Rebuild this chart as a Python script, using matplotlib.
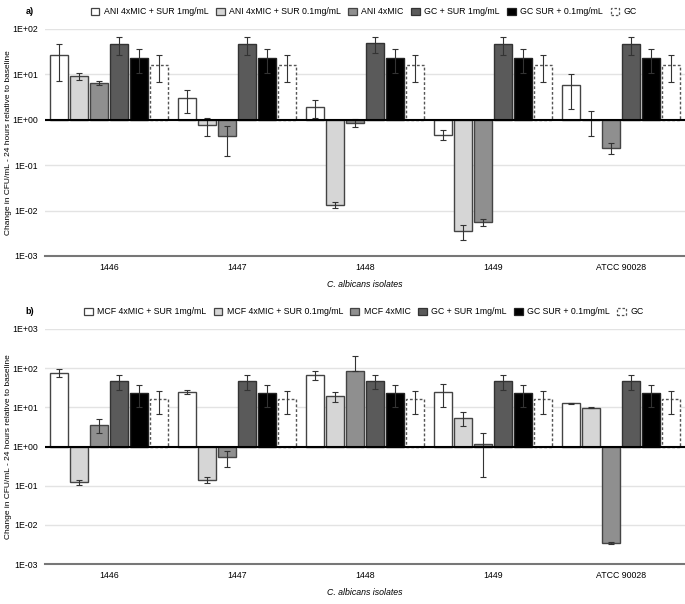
import numpy as np
import matplotlib
matplotlib.use('Agg')
import matplotlib.pyplot as plt
from matplotlib.patches import Patch
from matplotlib.ticker import FixedLocator, FuncFormatter

plt.rcParams['font.family'] = ['Liberation Sans', 'DejaVu Sans']

# Data
isolates = ['1446', '1447', '1448', '1449', 'ATCC 90028']

labels_a = ['ANI 4xMIC + SUR 1mg/mL', 'ANI 4xMIC + SUR 0.1mg/mL', 'ANI 4xMIC',
            'GC + SUR 1mg/mL', 'GC SUR + 0.1mg/mL', 'GC']
labels_b = ['MCF 4xMIC + SUR 1mg/mL', 'MCF 4xMIC + SUR 0.1mg/mL', 'MCF 4xMIC',
            'GC + SUR 1mg/mL', 'GC SUR + 0.1mg/mL', 'GC']

# panel a: one list per series, values per isolate
a_sur1 = [27, 3.0, 1.9, 0.47, 5.9]
a_sur01 = [9.2, 0.78, 0.0133, 0.0036, 0.98]
a_drug = [6.6, 0.44, 0.86, 0.0056, 0.245]
a_sur1_err = [20, 1.6, 0.8, 0.12, 4.2]
a_sur01_err = [1.8, 0.33, 0.002, 0.0013, 0.55]
a_drug_err = [0.7, 0.28, 0.18, 0.001, 0.07]

# panel b
b_sur1 = [77, 24.5, 67, 25, 12.7]
b_sur01 = [0.121, 0.139, 19, 5.5, 9.7]
b_drug = [3.6, 0.54, 86, 1.17, 0.0035]
b_sur1_err = [18, 3, 17, 15, 0.3]
b_sur01_err = [0.016, 0.025, 5, 2.2, 0.3]
b_drug_err = [1.4, 0.24, 120, 1.0, 0.0002]

# growth controls (same in both panels)
gc_sur1 = [46, 46, 48, 46, 46]
gc_sur01 = [23.5, 23.5, 23.5, 23.5, 23.5]
gc = [16.5, 16.5, 16.5, 16.5, 16.5]
gc_sur1_err = [19, 19, 19, 19, 19]
gc_sur01_err = [13, 13, 13, 13, 13]
gc_err = [9.7, 9.7, 9.7, 9.7, 9.7]

colors = ['white', '#d6d6d6', '#8f8f8f', '#5a5a5a', 'black', 'white']
edges = ['#444444', '#444444', '#444444', '#333333', '#222222', '#555555']
styles = ['-', '-', '-', '-', '-', (0, (2, 1.5))]

W, H = 685, 604
fig = plt.figure(figsize=(W / 100, H / 100), dpi=100)

def fmt(v, pos):
    e = int(round(np.log10(v)))
    return '1E{}{:02d}'.format('+' if e >= 0 else '-', abs(e))

def panel(ax, series, errs, ymax):
    x = np.arange(len(isolates))
    step, width = 0.156, 0.14
    for i, (vals, err) in enumerate(zip(series, errs)):
        vals = np.array(vals, dtype=float)
        err = np.array(err, dtype=float)
        pos = x + (i - 2.5) * step
        ax.bar(pos, vals - 1, bottom=1, width=width, color=colors[i],
               edgecolor=edges[i], linewidth=1.0, linestyle=styles[i], zorder=2)
        low = np.where(err < vals, err, 0)
        ax.errorbar(pos, vals, yerr=[low, err], fmt='none', ecolor='#333333',
                    elinewidth=0.8, capsize=2.2, capthick=0.8, zorder=3)
    ax.set_yscale('log')
    ax.set_ylim(1e-3, ymax)
    ax.set_xlim(-0.5, len(isolates) - 0.5)
    ticks = [10.0 ** k for k in range(-3, int(round(np.log10(ymax))) + 1)]
    ax.yaxis.set_major_locator(FixedLocator(ticks))
    ax.yaxis.set_minor_locator(FixedLocator([]))
    ax.yaxis.set_major_formatter(FuncFormatter(fmt))
    ax.grid(axis='y', color='#e3e3e3', linewidth=1.0, zorder=0)
    ax.set_axisbelow(True)
    ax.axhline(1, color='black', linewidth=1.5, zorder=4)
    for s in ['top', 'right', 'left']:
        ax.spines[s].set_visible(False)
    ax.spines['bottom'].set_color('#777777')
    ax.spines['bottom'].set_linewidth(1.5)
    ax.set_xticks(x)
    ax.set_xticklabels(isolates)
    ax.tick_params(length=0, labelsize=6.3, pad=5)
    ax.set_xlabel('C. albicans isolates', fontstyle='italic', fontsize=6.3, labelpad=6)
    ax.set_ylabel('Change in CFU/mL - 24 hours relative to baseline', fontsize=6.0)
    ax.yaxis.set_label_coords(-0.052, 0.5)

def legend(labels, ytop, tag):
    handles = [Patch(facecolor=colors[i], edgecolor=edges[i], linestyle=styles[i],
                     linewidth=0.9, label=labels[i]) for i in range(6)]
    fig.legend(handles=handles, loc='center', bbox_to_anchor=(0.531, ytop), ncol=6,
               frameon=False, fontsize=6.3, handlelength=1.0, handleheight=1.0,
               handletextpad=0.5, columnspacing=0.85, borderaxespad=0)
    fig.text(30 / W, ytop, tag, fontsize=6.5, fontweight='bold', ha='center', va='center')

ax_a = fig.add_axes([45 / W, 1 - 256 / H, 640 / W, 227 / H])
panel(ax_a, [a_sur1, a_sur01, a_drug, gc_sur1, gc_sur01, gc],
      [a_sur1_err, a_sur01_err, a_drug_err, gc_sur1_err, gc_sur01_err, gc_err], 1e2)
legend(labels_a, 1 - 12 / H, 'a)')

ax_b = fig.add_axes([45 / W, 1 - 564 / H, 640 / W, 235 / H])
panel(ax_b, [b_sur1, b_sur01, b_drug, gc_sur1, gc_sur01, gc],
      [b_sur1_err, b_sur01_err, b_drug_err, gc_sur1_err, gc_sur01_err, gc_err], 1e3)
legend(labels_b, 1 - 312 / H, 'b)')

plt.savefig('out.png', dpi=100)
plt.close()
